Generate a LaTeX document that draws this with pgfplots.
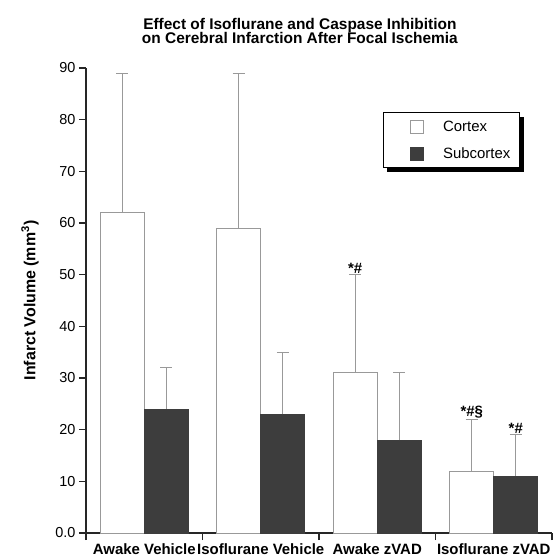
\documentclass[border=0pt]{standalone}
\usepackage{pgfplots}
\pgfplotsset{compat=1.18}
\usepackage{fontspec}
\setmainfont{Liberation Sans}
\usetikzlibrary{shadows}
\makeatletter
\tikzset{no preactions/.code={\let\tikz@preactions\pgfutil@empty}}
\makeatother
\definecolor{barline}{gray}{0.6}
\definecolor{darkbar}{gray}{0.24}
\definecolor{errgray}{gray}{0.6}
\begin{document}
\begin{tikzpicture}
\begin{axis}[
  at={(0,0)}, anchor=south west,
  scale only axis, width=466bp, height=465bp,
  xmin=0, xmax=4, ymin=0, ymax=90,
  clip=false,
  axis x line=bottom, axis y line=left,
  axis line style={-, line width=1.1bp, black!85},
  tick align=outside,
  major tick length=7bp,
  xtick={0.5,1.5,2.5,3.5},
  xticklabels={Awake Vehicle, Isoflurane Vehicle, Awake zVAD, Isoflurane zVAD},
  major x tick style={draw=none},
  extra x ticks={0,1,2,3,4},
  extra x tick labels={},
  extra x tick style={major x tick style={draw=black!85, line width=1.1bp}},
  x tick label style={font=\bfseries\fontsize{15}{15}\selectfont, yshift=0bp},
  ytick={0,10,20,30,40,50,60,70,80,90},
  yticklabels={0.0,10,20,30,40,50,60,70,80,90},
  y tick style={draw=black!85, line width=1.1bp},
  y tick label style={font=\fontsize{14.5}{15}\selectfont},
  /pgf/number format/assume math mode=true,
  ylabel={\textbf{Infarct Volume (mm\textsuperscript{3})}},
  ylabel style={font=\bfseries\fontsize{16}{16}\selectfont},
  ylabel shift=10bp,
  ybar, bar width=0.378, bar shift=0pt,
  legend style={at={(rel axis cs:0.637,0.905)}, anchor=north west,
    draw=black, line width=0.8bp, fill=white,
    drop shadow={shadow xshift=4bp, shadow yshift=-4bp, fill=black, opacity=1},
    font=\fontsize{15}{15}\selectfont,
    inner xsep=7.5bp, inner ysep=6bp, row sep=11bp},
  legend cell align=left,
  legend image code/.code={%
    \path[no preactions] (0bp,0bp) (49.5bp,0bp);
    \draw[#1, no preactions] (19.5bp,-6.5bp) rectangle (32.5bp,6.5bp);},
]
\addplot+[draw=barline, fill=white, line width=0.8bp,
  error bars/.cd, y dir=plus, y explicit,
  error bar style={errgray, line width=0.9bp},
  error mark options={errgray, line width=0.9bp, mark size=6bp, rotate=90}]
  coordinates {
  (0.311,62) +- (0,27)
  (1.311,59) +- (0,30)
  (2.311,31) +- (0,19)
  (3.311,12) +- (0,10)
  };
\addlegendentry{Cortex}
\addplot+[draw=darkbar, fill=darkbar, line width=0.8bp,
  error bars/.cd, y dir=plus, y explicit,
  error bar style={errgray, line width=0.9bp},
  error mark options={errgray, line width=0.9bp, mark size=6bp, rotate=90}]
  coordinates {
  (0.689,24) +- (0,8)
  (1.689,23) +- (0,12)
  (2.689,18) +- (0,13)
  (3.689,11) +- (0,8)
  };
\addlegendentry{Subcortex}
\node[font=\bfseries\fontsize{15}{15}\selectfont, anchor=south, inner sep=1bp] at (axis cs:2.311,50) {*\#};
\node[font=\bfseries\fontsize{15}{15}\selectfont, anchor=south, inner sep=1bp] at (axis cs:3.311,22) {*\#§};
\node[font=\bfseries\fontsize{15}{15}\selectfont, anchor=south, inner sep=1bp] at (axis cs:3.689,19) {*\#};
\node[font=\bfseries\fontsize{15.5}{14.5}\selectfont, align=center, anchor=south, inner sep=0pt]
  at (rel axis cs:0.459,1) [yshift=24bp] {Effect of Isoflurane and Caspase Inhibition\\on Cerebral Infarction After Focal Ischemia};
\end{axis}
\pgfresetboundingbox
\path[use as bounding box] (-86bp,-26bp) rectangle (471bp,533bp);
\end{tikzpicture}
\end{document}
